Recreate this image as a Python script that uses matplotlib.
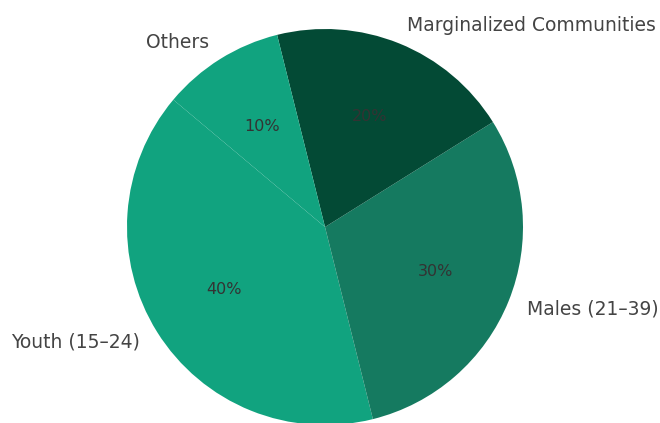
import matplotlib
matplotlib.use('Agg')
import matplotlib.pyplot as plt

# audience share by group
labels = ['Youth (15–24)', 'Males (21–39)', 'Marginalized Communities', 'Others']
shares = [40, 30, 20, 10]
colors = ['#11a37f', '#157a60', '#034a35', '#11a37f']

fig = plt.figure(figsize=(6.6, 4.23), dpi=100)
# place the pie so its centre sits left of middle, radius ~198 px
r_px = 198.
cx, cy = 325., 423. - 227.
lim = 1.25
w = 2 * lim * r_px
ax = fig.add_axes([(cx - w / 2) / 660., (cy - w / 2) / 423., w / 660., w / 423.])

wedges, texts, autotexts = ax.pie(shares, labels=labels, colors=colors,
                                  autopct='%1.0f%%', startangle=140,
                                  textprops={'fontsize': 13.5, 'color': '#444444'})
for t in autotexts:
    t.set_fontsize(11.5)
    t.set_color('#333333')
ax.set_xlim(-lim, lim)
ax.set_ylim(-lim, lim)
ax.set_aspect('equal')

fig.savefig('out.png', dpi=100)
